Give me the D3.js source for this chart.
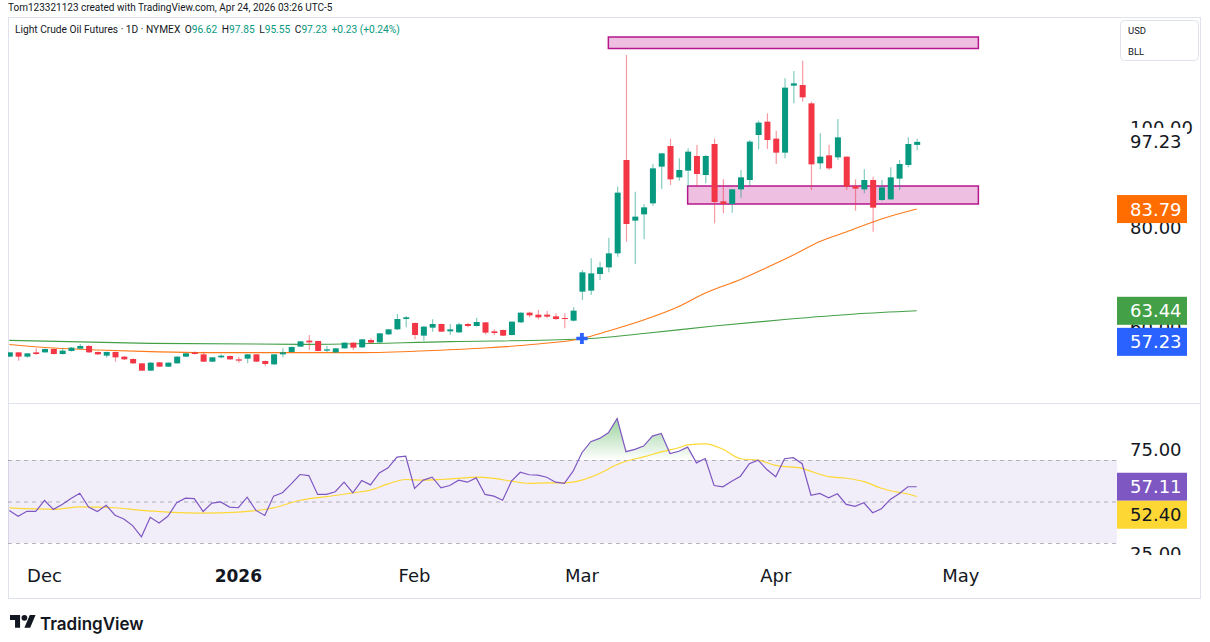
<!DOCTYPE html>
<html>
<head>
<meta charset="utf-8">
<script src="https://cdn.jsdelivr.net/npm/d3@7"></script>
<style>
  body { margin: 0; background: #fff; }
  svg { display: block; }
  text { font-family: "DejaVu Sans", sans-serif; }
</style>
</head>
<body>
<script>
// ---- candles, one per trading day (Nov 24 2025 .. Apr 23 2026) ----
const open = [
  54.27,55.13,54.27,55.13,55.13,55.8,54.8,55.4,55.87,56.4,
  55.2,54.47,55.2,54.27,53.8,52.93,51.47,53.13,52.27,52.93,
  54.27,55.13,54.73,53.27,54.13,54.4,53.73,53.87,54.73,53.4,
  52.73,54.73,55.2,56.27,57.47,57.4,55.47,55.13,55.93,57.07,
  56.13,57.6,57.13,58.73,59.73,61.8,61.0,58.47,60.07,60.8,
  59.33,59.13,60.8,60.4,61.13,59.33,59.6,58.6,61.13,63.07,
  62.67,62.67,62.33,62.0,61.47,67.27,67.47,70.8,72.13,74.93,
  93.6,81.47,82.73,84.93,92.27,96.4,90.13,91.47,94.4,90.6,
  96.8,85.33,84.8,87.73,89.6,98.6,101.27,97.87,95.07,108.47,
  108.6,104.93,92.93,94.53,94.13,94.27,88.4,87.73,89.6,85.6,
  85.73,89.87,92.6,96.62];
const high = [
  55.2,55.2,55.0,55.93,55.9,55.9,55.93,56.2,56.8,56.6,
  55.3,55.3,55.3,54.4,53.9,53.0,53.1,53.2,53.1,54.3,
  55.0,55.3,55.27,54.2,54.73,54.5,54.27,54.8,54.8,53.5,
  54.8,55.93,56.3,57.4,58.6,57.5,56.4,56.0,57.1,57.1,
  57.8,57.93,59.0,59.8,62.8,62.4,61.1,60.4,61.73,60.9,
  60.8,61.07,61.07,62.07,61.2,59.73,59.7,61.3,63.1,63.27,
  63.6,63.4,62.93,62.93,64.13,71.6,73.93,73.27,78.07,88.27,
  114.6,87.27,84.8,92.8,95.0,97.87,93.93,95.93,96.6,94.6,
  97.87,89.73,87.8,91.6,97.6,101.47,102.93,99.47,109.93,111.4,
  113.47,105.27,98.93,96.6,101.8,94.3,89.73,91.73,90.27,89.6,
  92.13,93.6,98.13,97.85];
const low = [
  54.2,53.47,54.07,54.6,55.0,54.7,54.7,55.3,55.8,55.0,
  54.6,54.07,53.27,53.6,52.8,51.4,51.4,52.2,52.2,52.9,
  54.2,54.7,53.2,53.2,53.93,53.6,53.07,52.93,53.2,52.4,
  52.6,54.13,55.1,56.2,55.6,55.3,55.2,55.0,55.9,55.6,
  56.0,56.8,57.0,58.6,59.6,60.13,57.73,57.47,59.27,59.2,
  58.6,59.0,60.13,60.3,58.73,58.6,58.4,58.5,61.0,62.13,
  61.73,61.93,61.6,59.93,61.3,65.6,66.6,69.6,71.13,74.27,
  77.27,72.8,77.73,84.47,87.8,88.6,89.47,88.27,88.27,88.93,
  80.93,82.93,83.07,86.07,88.47,95.73,95.8,92.8,93.93,104.93,
  105.27,87.6,91.73,91.6,93.6,87.6,83.47,86.93,79.27,85.47,
  85.6,87.6,92.13,95.55];
const close = [
  55.13,54.27,54.93,54.8,55.8,54.8,55.47,56.07,56.4,55.13,
  54.73,55.2,54.13,53.73,52.93,51.47,53.07,52.27,53.07,54.27,
  54.93,54.8,53.27,54.13,54.47,53.73,53.47,54.73,53.27,52.8,
  54.73,55.13,56.2,57.33,57.13,55.4,55.73,55.93,57.07,56.07,
  57.73,57.07,58.93,59.73,61.8,62.13,58.6,60.27,60.8,59.27,
  59.73,60.73,60.4,61.2,59.07,59.0,58.47,61.27,63.07,62.53,
  62.13,62.27,61.8,61.8,63.47,71.13,70.93,72.13,74.93,87.07,
  80.8,82.27,84.13,91.93,94.93,89.73,91.6,95.27,90.8,94.4,
  85.2,84.8,87.73,90.13,97.27,101.07,97.6,95.07,108.07,108.93,
  106.13,92.73,94.27,91.93,98.13,88.27,87.87,89.6,84.07,88.13,
  90.13,92.8,96.8,97.23];

// moving averages, read at selected bars
const ma50Idx = [0,5,10,16,22,30,40,48,54,60,65,68,72,76,79,83,86,89,92,95,99,103];
const ma50Val = [56.7,56.0,55.6,55.27,55.07,55.07,55.07,55.5,56.0,56.8,57.9,59.4,61.6,64.3,67.0,69.7,72.1,74.6,77.3,79.2,81.8,83.79];
const ma200Idx = [0,16,33,50,65,72,80,88,96,103];
const ma200Val = [57.53,56.93,56.73,57.27,57.8,58.9,60.4,61.7,62.8,63.44];

// RSI(14) per bar and its moving average
const rsi = [
  45.7,42.9,45.3,45.2,50.5,46.2,48.6,51.4,54.0,47.3,
  45.2,48.2,43.4,41.6,38.4,33.0,42.4,39.6,42.9,49.4,
  51.6,51.4,45.2,49.2,49.8,47.3,47.0,52.1,45.7,43.3,
  52.6,54.2,58.5,63.0,62.5,53.4,53.4,54.7,59.3,54.2,
  60.1,58.0,63.8,66.2,71.4,71.8,56.3,60.3,61.7,56.6,
  57.7,60.3,59.3,61.4,53.4,52.6,50.6,59.8,64.1,62.9,
  62.7,61.7,59.3,58.7,64.6,73.5,78.8,80.4,83.1,90.0,
  74.0,75.1,76.7,81.5,82.8,73.1,74.2,76.2,68.6,70.7,
  57.7,57.1,59.8,62.2,68.2,69.9,65.4,61.9,70.6,71.1,
  68.2,53.0,53.9,51.8,53.7,48.6,47.7,49.4,44.6,46.5,
  51.0,53.7,57.1,57.11];
const rsiMaIdx = [0,5,8,12,15,18,22,26,30,33,37,39,41,43,45,47,49,51,53,55,57,59,61,63,65,67,69,70,72,74,76,77,79,81,83,85,87,90,91,93,95,97,99,100,102,103];
const rsiMaVal = [46.9,46.2,47.4,47.0,45.7,44.9,44.4,44.9,46.9,50.6,52.9,54.2,55.5,58.5,60.6,60.3,60.6,61.1,61.7,61.1,59.8,58.7,59.0,59.0,60.3,63.5,67.8,69.4,71.5,73.9,75.9,77.3,77.8,75.2,70.6,69.9,67.4,66.0,64.5,62.0,61.2,59.6,56.4,55.2,53.6,52.40];

// drawn zones (bar index from..to, price top..bottom)
const zoneFrom = [68, 77];
const zoneTo = [110, 110];
const zoneTop = [118.2, 88.4];
const zoneBottom = [115.9, 84.8];

const crossIdx = 65, crossPrice = 57.9;

const priceTicks = [60, 80, 100];
const rsiTicks = [25, 75];
const tickNames = ['Dec', '2026', 'Feb', 'Mar', 'Apr', 'May'];
const tickIdx = [4, 26, 46, 65, 87, 108];

const priceLabelVals = [97.23, 83.79, 63.44, 57.23];
const priceLabelCols = ['#ffffff', '#ff6d00', '#43a047', '#2962ff'];
const priceLabelText = ['#131722', '#ffffff', '#ffffff', '#ffffff'];
const rsiLabelVals = [57.11, 52.40];
const rsiLabelCols = ['#7e57c2', '#fdd835'];
const rsiLabelText = ['#ffffff', '#131722'];

// ---- layout ----
const W = 1210, H = 642;
const L = 8, R = 1117, RB = 1200;
const pTop = 17, pBot = 403, rBot = 555, fBot = 598;
const UP = '#089981', DN = '#f23645';

const svg = d3.select('body').append('svg').attr('width', W).attr('height', H);

const x = d3.scaleLinear().domain([0, 103]).range([9.3, 916.7]);
const yP = d3.scaleLinear().domain([80, 100]).range([228, 128]);
const yR = d3.scaleLinear().domain([30, 70]).range([543, 460]);

const defs = svg.append('defs');
defs.append('clipPath').attr('id', 'cp').append('rect')
  .attr('x', L).attr('y', pTop).attr('width', R - L).attr('height', pBot - pTop);
defs.append('clipPath').attr('id', 'cr').append('rect')
  .attr('x', L).attr('y', pBot).attr('width', R - L).attr('height', rBot - pBot);
defs.append('clipPath').attr('id', 'cra').append('rect')
  .attr('x', R).attr('y', pBot).attr('width', RB - R).attr('height', rBot - pBot);
defs.append('clipPath').attr('id', 'cob').append('rect')
  .attr('x', L).attr('y', pBot).attr('width', R - L).attr('height', yR(70) - pBot);
const grad = defs.append('linearGradient').attr('id', 'ob')
  .attr('gradientUnits', 'userSpaceOnUse')
  .attr('x1', 0).attr('x2', 0).attr('y1', yR(100)).attr('y2', yR(70));
grad.append('stop').attr('offset', 0).attr('stop-color', '#4caf50').attr('stop-opacity', 0.85);
grad.append('stop').attr('offset', 1).attr('stop-color', '#4caf50').attr('stop-opacity', 0);

// header
svg.append('text').attr('x', 8).attr('y', 10.5)
  .style('font-family', 'Roboto, sans-serif').style('font-size', '10px').attr('fill', '#131722')
  .text('Tom123321123 created with TradingView.com, Apr 24, 2026 03:26 UTC-5');

// frame
svg.append('rect').attr('x', L + 0.5).attr('y', pTop + 0.5)
  .attr('width', RB - L).attr('height', fBot - pTop)
  .attr('fill', 'none').attr('stroke', '#e0e3eb');
svg.append('line').attr('x1', L).attr('x2', RB).attr('y1', pBot + 0.5).attr('y2', pBot + 0.5)
  .attr('stroke', '#e0e3eb');

// ---- price pane ----
const gp = svg.append('g').attr('clip-path', 'url(#cp)');

gp.selectAll('rect.zone').data(zoneFrom).enter().append('rect')
  .attr('x', (d, k) => x(d))
  .attr('y', (d, k) => yP(zoneTop[k]))
  .attr('width', (d, k) => x(zoneTo[k]) - x(d))
  .attr('height', (d, k) => yP(zoneBottom[k]) - yP(zoneTop[k]))
  .attr('fill', 'rgba(194,24,143,0.28)').attr('stroke', '#b5178c').attr('stroke-width', 1.5);

const maLine = d3.line().x(d => x(d[0])).y(d => yP(d[1])).curve(d3.curveMonotoneX);
gp.append('path').attr('d', maLine(d3.zip(ma200Idx, ma200Val)))
  .attr('fill', 'none').attr('stroke', '#43a047').attr('stroke-width', 1.1);
gp.append('path').attr('d', maLine(d3.zip(ma50Idx, ma50Val)))
  .attr('fill', 'none').attr('stroke', '#ff7a1a').attr('stroke-width', 1.1);

const bars = d3.range(open.length);
gp.selectAll('line.wick').data(bars).enter().append('line')
  .attr('x1', i => x(i) + 0.5).attr('x2', i => x(i) + 0.5)
  .attr('y1', i => yP(high[i])).attr('y2', i => yP(low[i]))
  .attr('stroke', i => close[i] >= open[i] ? UP : DN)
  .attr('stroke-opacity', 0.5).attr('stroke-width', 1.2);
gp.selectAll('rect.body').data(bars).enter().append('rect')
  .attr('x', i => x(i) - 2.5)
  .attr('y', i => yP(Math.max(open[i], close[i])))
  .attr('width', 6)
  .attr('height', i => Math.max(1, Math.abs(yP(open[i]) - yP(close[i]))))
  .attr('fill', i => close[i] >= open[i] ? UP : DN);

// cross marker
gp.append('path')
  .attr('d', d3.symbol(d3.symbolCross, 70)())
  .attr('transform', `translate(${x(crossIdx)},${yP(crossPrice)})`)
  .attr('fill', '#2962ff');

// price axis
const gpa = svg.append('g');
gpa.selectAll('text').data(priceTicks).enter().append('text')
  .attr('x', 1130).attr('y', d => yP(d)).attr('dy', '0.36em')
  .style('font-size', '18px').attr('fill', '#131722')
  .text(d => d3.format('.2f')(d));

function axisLabels(g, vals, cols, txt, yScale) {
  let prev = -Infinity;
  const pos = vals.map(v => {
    let c = Math.max(yScale(v), prev + 28);
    prev = c;
    return c;
  });
  const lab = g.selectAll('g.lab').data(vals).enter().append('g')
    .attr('transform', (d, k) => `translate(${R},${pos[k]})`);
  lab.append('rect').attr('x', 0).attr('y', -14).attr('width', 70).attr('height', 28)
    .attr('fill', (d, k) => cols[k]);
  lab.append('text').attr('x', 13).attr('dy', '0.36em')
    .style('font-size', '18px').attr('fill', (d, k) => txt[k])
    .text(d => d3.format('.2f')(d));
}
axisLabels(gpa, priceLabelVals, priceLabelCols, priceLabelText, yP);

// currency box
svg.append('rect').attr('x', 1120.5).attr('y', 20.5).attr('width', 78).attr('height', 40).attr('rx', 4)
  .attr('fill', '#fff').attr('stroke', '#e0e3eb');
svg.selectAll('text.cur').data(['USD', 'BLL']).enter().append('text')
  .attr('x', 1128).attr('y', (d, k) => 34 + k * 21)
  .style('font-family', 'Roboto, sans-serif').style('font-size', '9.5px').attr('fill', '#131722')
  .text(d => d);

// legend
const leg = svg.append('text').attr('x', 15).attr('y', 33)
  .style('font-family', 'Roboto, sans-serif').style('font-size', '10.2px').attr('fill', '#131722');
leg.append('tspan').text('Light Crude Oil Futures · 1D · NYMEX');
const ohlc = [['O', '96.62'], ['H', '97.85'], ['L', '95.55'], ['C', '97.23']];
ohlc.forEach(([k, v]) => {
  leg.append('tspan').attr('dx', 4.5).text(k);
  leg.append('tspan').attr('fill', UP).text(v);
});
leg.append('tspan').attr('dx', 4.5).attr('fill', UP).text('+0.23 (+0.24%)');

// ---- RSI pane ----
const gr = svg.append('g').attr('clip-path', 'url(#cr)');
gr.append('rect').attr('x', L).attr('width', R - L)
  .attr('y', yR(70)).attr('height', yR(30) - yR(70))
  .attr('fill', 'rgba(126,87,194,0.1)');
gr.selectAll('line.lvl').data([70, 50, 30]).enter().append('line')
  .attr('x1', L).attr('x2', R).attr('y1', d => yR(d) + 0.5).attr('y2', d => yR(d) + 0.5)
  .attr('stroke', '#787b86').attr('stroke-opacity', 0.55).attr('stroke-dasharray', '4,4');

gr.append('path')
  .attr('clip-path', 'url(#cob)')
  .attr('d', d3.area().x((d, i) => x(i)).y0(yR(70)).y1(d => yR(d))(rsi))
  .attr('fill', 'url(#ob)');
gr.append('path')
  .attr('d', d3.line().x(d => x(d[0])).y(d => yR(d[1])).curve(d3.curveMonotoneX)(d3.zip(rsiMaIdx, rsiMaVal)))
  .attr('fill', 'none').attr('stroke', '#fdd835').attr('stroke-width', 1.2);
gr.append('path')
  .attr('d', d3.line().x((d, i) => x(i)).y(d => yR(d))(rsi))
  .attr('fill', 'none').attr('stroke', '#7e57c2').attr('stroke-width', 1.2);

const gra = svg.append('g').attr('clip-path', 'url(#cra)');
gra.selectAll('text').data(rsiTicks).enter().append('text')
  .attr('x', 1130).attr('y', d => yR(d)).attr('dy', '0.36em')
  .style('font-size', '18px').attr('fill', '#131722')
  .text(d => d3.format('.2f')(d));
axisLabels(gra, rsiLabelVals, rsiLabelCols, rsiLabelText, yR);

// ---- time axis ----
svg.selectAll('text.tick').data(tickIdx).enter().append('text')
  .attr('x', d => x(d)).attr('y', 576).attr('dy', '0.36em')
  .attr('text-anchor', 'middle')
  .style('font-size', (d, k) => tickNames[k] === '2026' ? '17px' : '18px')
  .style('font-weight', (d, k) => tickNames[k] === '2026' ? 'bold' : 'normal')
  .attr('fill', '#131722')
  .text((d, k) => tickNames[k]);

// ---- watermark ----
const logo = svg.append('g').attr('transform', 'translate(10,612) scale(0.72)').attr('fill', '#131722');
logo.append('path').attr('d', 'M14 22H7V11H0V4h14v18zM28 22h-8l7.5-18h8L28 22z');
logo.append('circle').attr('cx', 20).attr('cy', 8).attr('r', 4);
svg.append('text').attr('x', 40).attr('y', 630)
  .style('font-family', 'Inter, Roboto, sans-serif').style('font-size', '17px').style('font-weight', 600)
  .attr('fill', '#131722').text('TradingView');
</script>
</body>
</html>
